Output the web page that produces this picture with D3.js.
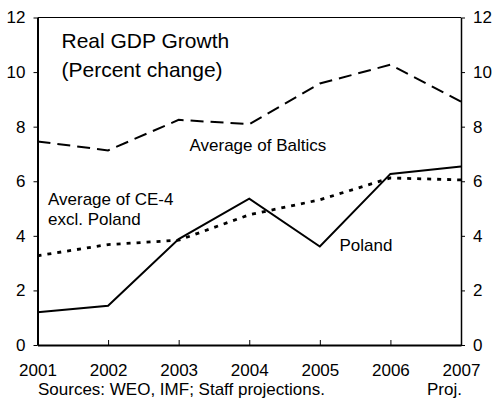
<!DOCTYPE html>
<html>
<head>
<meta charset="utf-8">
<script src="https://cdn.jsdelivr.net/npm/d3@7"></script>
<style>
  body { margin: 0; background: #fff; }
  svg text { font-family: "Liberation Sans", Arial, sans-serif; fill: #000; }
</style>
</head>
<body>
<div id="chart"></div>
<script>
// ── Data ──────────────────────────────────────────────────────────────────
const years    = [2001, 2002, 2003, 2004, 2005, 2006, 2007];
const baltics  = [7.46, 7.13, 8.25, 8.09, 9.58, 10.27, 8.92];
const ce4      = [3.27, 3.68, 3.84, 4.77, 5.32, 6.12, 6.05];
const poland   = [1.20, 1.44, 3.88, 5.36, 3.61, 6.27, 6.54];
const yTicks   = [0, 2, 4, 6, 8, 10, 12];

const W = 495, H = 405;
const margin = { top: 17.5, right: 34, bottom: 60, left: 37.5 };
const width  = W - margin.left - margin.right;
const height = H - margin.top - margin.bottom;
const FS = '17px';

const svg = d3.select('#chart')
  .append('svg')
  .attr('width', W)
  .attr('height', H);

const g = svg.append('g')
  .attr('transform', `translate(${margin.left},${margin.top})`);

const x = d3.scalePoint()
  .domain(years)
  .range([0, width]);

const y = d3.scaleLinear()
  .domain([0, 12])
  .range([height, 0]);

// Frame: top line
g.append('line')
  .attr('x1', 0).attr('x2', width)
  .attr('y1', 0).attr('y2', 0)
  .attr('stroke', '#000').attr('stroke-width', 1);

// Left axis
const left = g.append('g')
  .call(d3.axisLeft(y).tickValues(yTicks).tickSize(4).tickSizeOuter(0).tickPadding(8));
left.select('.domain').attr('stroke-width', 2);
left.selectAll('text').style('font-size', FS);

// Right axis
const right = g.append('g')
  .attr('transform', `translate(${width},0)`)
  .call(d3.axisRight(y).tickValues(yTicks).tickSize(4).tickSizeOuter(0).tickPadding(8));
right.select('.domain').attr('stroke-width', 1.5);
right.selectAll('text').style('font-size', FS);

// Bottom axis, ticks pointing inward
const bottom = g.append('g')
  .attr('transform', `translate(0,${height})`)
  .call(d3.axisBottom(x).tickSize(-5).tickSizeOuter(0).tickPadding(19).tickFormat(d3.format('d')));
bottom.select('.domain').attr('stroke-width', 2);
bottom.selectAll('text').style('font-size', FS);

// Lines
const series = [
  { name: 'baltics', values: baltics, dash: '13,7', width: 2 },
  { name: 'ce4',     values: ce4,     dash: '4,6',  width: 2.8 },
  { name: 'poland',  values: poland,  dash: null,   width: 2 }
];

const line = d3.line()
  .x((d, i) => x(years[i]))
  .y(d => y(d));

series.forEach(s => {
  g.append('path')
    .datum(s.values)
    .attr('fill', 'none')
    .attr('stroke', '#000')
    .attr('stroke-width', s.width)
    .attr('stroke-dasharray', s.dash)
    .attr('d', line);
});

// Title
g.append('text')
  .attr('x', 24).attr('y', 30)
  .style('font-size', '21px')
  .text('Real GDP Growth');
g.append('text')
  .attr('x', 24).attr('y', 59)
  .style('font-size', '21px')
  .text('(Percent change)');

// Series labels
g.append('text')
  .attr('x', 152).attr('y', 133.5)
  .style('font-size', FS)
  .text('Average of Baltics');
g.append('text')
  .attr('x', 10.5).attr('y', 187)
  .style('font-size', FS)
  .text('Average of CE-4');
g.append('text')
  .attr('x', 10.5).attr('y', 207)
  .style('font-size', FS)
  .text('excl. Poland');
g.append('text')
  .attr('x', 302).attr('y', 233)
  .style('font-size', FS)
  .text('Poland');

// Footer
svg.append('text')
  .attr('x', 38).attr('y', 395)
  .style('font-size', FS)
  .text('Sources: WEO, IMF; Staff projections.');
svg.append('text')
  .attr('x', margin.left + width + 1).attr('y', 395)
  .attr('text-anchor', 'end')
  .style('font-size', FS)
  .text('Proj.');
</script>
</body>
</html>
